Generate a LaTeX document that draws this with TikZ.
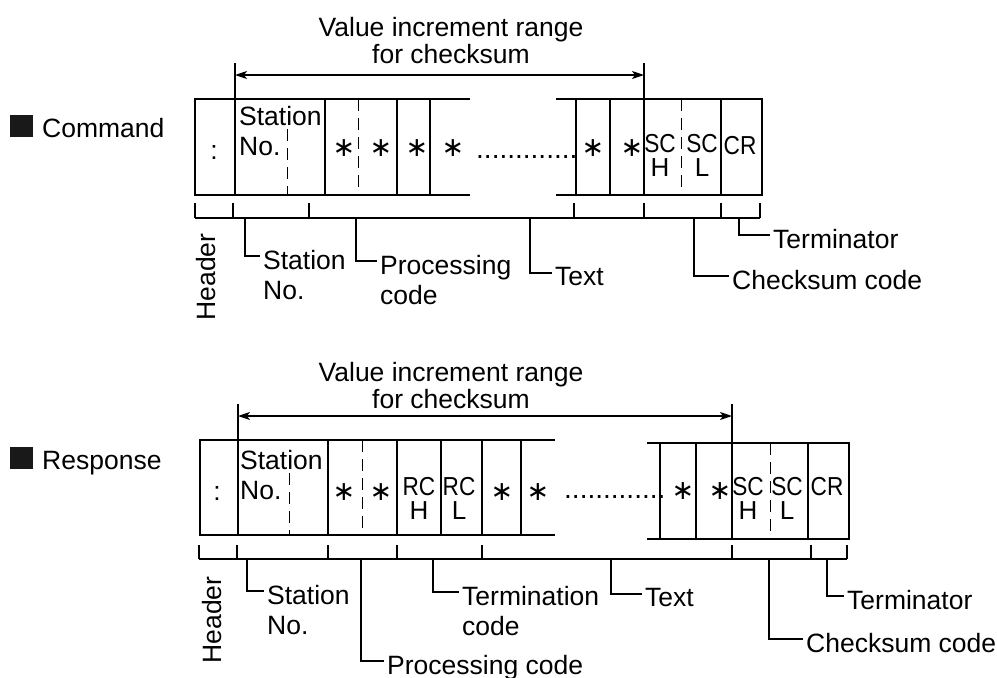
\documentclass[tikz,border=0pt]{standalone}
\usepackage{fontspec}
\setmainfont{Liberation Sans}
\newfontfamily\symfont{DejaVu Sans}
\usetikzlibrary{arrows.meta}
\newcommand{\cnd}[1]{\scalebox{0.87}[1]{#1}}

\begin{document}
\begin{tikzpicture}[x=1pt,y=-1pt,font=\fontsize{26.5}{30}\selectfont,
    frame/.style={line width=2.5pt},
    cell/.style={line width=1.2pt},
    halfsep/.style={line width=1pt,dash pattern=on 12pt off 7pt},
    sumspan/.style={line width=1.2pt,{Stealth[length=12pt,width=8pt,inset=3pt]}-{Stealth[length=12pt,width=8pt,inset=3pt]}},
    txt/.style={inner sep=0pt},
    lbl/.style={anchor=north west,inner xsep=3pt,inner ysep=0pt,align=left},
    ttl/.style={inner sep=0pt,anchor=north,align=center,font=\fontsize{26.5}{27}\selectfont},
    ast/.style={inner sep=0pt,font=\symfont\fontsize{27}{27}\selectfont},
    pair/.style={inner sep=0pt,anchor=north,align=center,font=\fontsize{26}{24}\selectfont}]
  \useasboundingbox (0,0) rectangle (997,678);

  \fill[black!90] (10,115) rectangle (33,137);
  \node[txt,anchor=base west] (cmd) at (42,137) {Command};
  \node[ttl] (crange) at (451,17) {Value increment range\\for checksum};
  \coordinate (ca1) at (235,75);
  \coordinate (ca2) at (644,75);
  \draw[cell] (235,63) -- (235,99) (644,63) -- (644,99);
  \draw[sumspan] (ca1) -- (ca2);

  \draw[frame] (470,99) -- (195,99) -- (195,195) -- (470,195);
  \draw[frame] (556,99) -- (762,99) -- (762,195) -- (556,195);
  \foreach \x in {235,325,397,430,576,610,644,721}
    \draw[cell] (\x,99) -- (\x,195);
  \draw[halfsep] (287,129) -- (287,195);
  \draw[halfsep] (358,99) -- (358,195);
  \draw[halfsep] (681,99) -- (681,195);

  \node[txt,anchor=base] (ccol) at (214,159) {:};
  \node[txt,anchor=north west,align=left] (cstn0) at (239,106) {Station\\No.};
  \foreach \x [count=\i] in {344,381,417,453,593,632}
    \node[ast] (cast\i) at (\x,148) {∗};
  \node[txt,anchor=base west,font=\fontsize{28}{30}\selectfont] (cdots) at (476,158) {.............};
  \node[pair] (csch) at (660,134) {\cnd{SC}\\H};
  \node[pair] (cscl) at (702,134) {\cnd{SC}\\L};
  \node[pair] (ccr) at (740,136) {\cnd{CR}};

  \foreach \x in {195,233,309,574,644,721,760}
    \draw[cell] (\x,203) -- (\x,218);
  \draw[cell] (195,218) -- (760,218);
  \coordinate (cb1) at (245,218);
  \coordinate (cb2) at (356,218);
  \coordinate (cb3) at (530,218);
  \coordinate (cb4) at (694,218);
  \coordinate (cb5) at (739,218);

  \node[txt,rotate=90] (chdr) at (206,277) {Header};
  \node[lbl] (cstn) at (260,250) {Station\\No.};
  \node[lbl] (cprc) at (377,255) {Processing\\code};
  \node[lbl] (ctxt) at (552,267) {Text};
  \node[lbl] (cchk) at (729,270) {Checksum code};
  \node[lbl] (cter) at (770,229) {Terminator};
  \draw[cell] (cb1) |- ([yshift=-6pt]cstn.north west);
  \draw[cell] (cb2) |- ([yshift=-6pt]cprc.north west);
  \draw[cell] (cb3) |- ([yshift=-6pt]ctxt.north west);
  \draw[cell] (cb4) |- ([yshift=-6pt]cchk.north west);
  \draw[cell] (cb5) |- ([yshift=-6pt]cter.north west);

  \fill[black!90] (10,447) rectangle (33,469);
  \node[txt,anchor=base west] (rsp) at (42,469) {Response};
  \node[ttl] (rrange) at (451,362) {Value increment range\\for checksum};
  \coordinate (ra1) at (238,416);
  \coordinate (ra2) at (732,416);
  \draw[cell] (238,404) -- (238,440) (732,404) -- (732,443);
  \draw[sumspan] (ra1) -- (ra2);

  \draw[frame] (555,440) -- (200,440) -- (200,535) -- (555,535);
  \draw[frame] (647,443) -- (849,443) -- (849,539) -- (647,539);
  \foreach \x in {238,328,397,441,482,521}
    \draw[cell] (\x,440) -- (\x,535);
  \foreach \x in {660,696,732,808}
    \draw[cell] (\x,443) -- (\x,539);
  \draw[halfsep] (289,473) -- (289,535);
  \draw[halfsep] (362,440) -- (362,535);
  \draw[halfsep] (770,443) -- (770,539);

  \node[txt,anchor=base] (rcol) at (217,500) {:};
  \node[txt,anchor=north west,align=left] (rstn0) at (240,450) {Station\\No.};
  \foreach \x/\y [count=\i] in {344/492,381/492,502/492,538/492,683/491,720/491}
    \node[ast] (rast\i) at (\x,\y) {∗};
  \node[pair] (rrch) at (419,477) {\cnd{RC}\\H};
  \node[pair] (rrcl) at (459,477) {\cnd{RC}\\L};
  \node[txt,anchor=base west,font=\fontsize{28}{30}\selectfont] (rdots) at (564,498) {.............};
  \node[pair] (rsch) at (748,477) {\cnd{SC}\\H};
  \node[pair] (rscl) at (787,477) {\cnd{SC}\\L};
  \node[pair] (rcr) at (827,477) {\cnd{CR}};

  \foreach \x in {199,237,328,397,482,732,811,847}
    \draw[cell] (\x,545) -- (\x,559);
  \draw[cell] (199,559) -- (847,559);
  \coordinate (rb1) at (247,559);
  \coordinate (rb2) at (361,559);
  \coordinate (rb3) at (433,559);
  \coordinate (rb4) at (611,559);
  \coordinate (rb5) at (769,559);
  \coordinate (rb6) at (827,559);

  \node[txt,rotate=90] (rhdr) at (212,620) {Header};
  \node[lbl] (rstn) at (264,585) {Station\\No.};
  \node[lbl] (rprc) at (384,655) {Processing code};
  \node[lbl] (rtrm) at (459,586) {Termination\\code};
  \node[lbl] (rtxt) at (642,588) {Text};
  \node[lbl] (rchk) at (803,633) {Checksum code};
  \node[lbl] (rter) at (844,590) {Terminator};
  \draw[cell] (rb1) |- ([yshift=-6pt]rstn.north west);
  \draw[cell] (rb2) |- ([yshift=-6pt]rprc.north west);
  \draw[cell] (rb3) |- ([yshift=-6pt]rtrm.north west);
  \draw[cell] (rb4) |- ([yshift=-6pt]rtxt.north west);
  \draw[cell] (rb5) |- ([yshift=-6pt]rchk.north west);
  \draw[cell] (rb6) |- ([yshift=-6pt]rter.north west);
\end{tikzpicture}
\end{document}
